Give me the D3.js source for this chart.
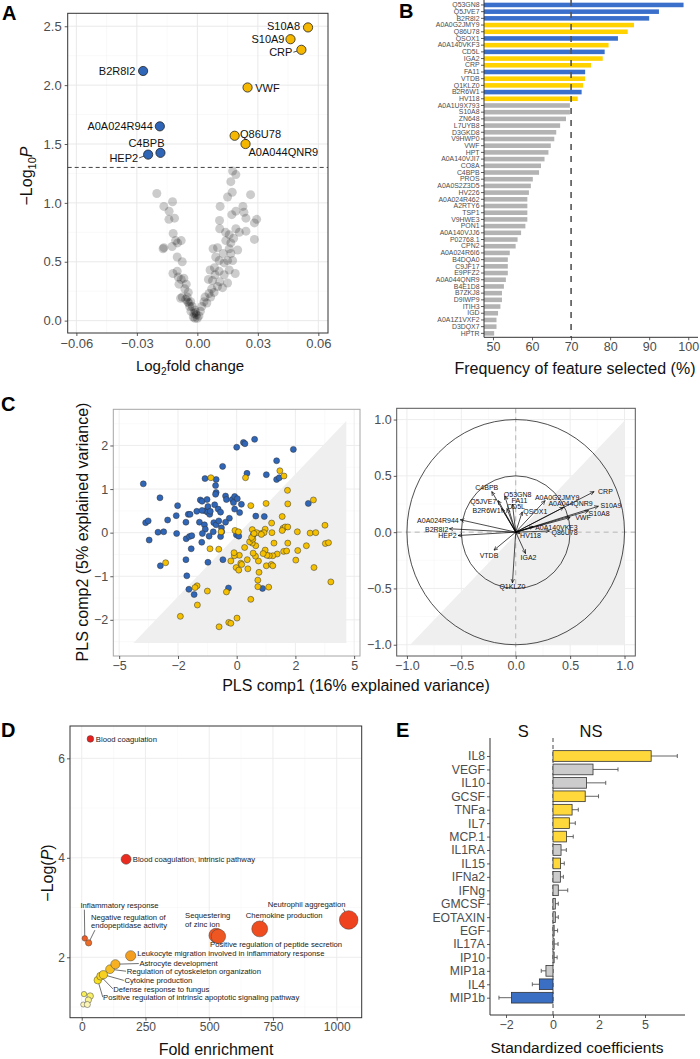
<!DOCTYPE html>
<html><head><meta charset="utf-8">
<script src="https://cdn.jsdelivr.net/npm/d3@7"></script>
<style>body{margin:0;background:#fff}</style>
</head><body><svg id="fig" width="700" height="1059"></svg>
<script>
// ---------------- DATA ----------------
// Panel A: volcano
const aSigNames = ["S10A8","S10A9","CRP","VWF","Q86U78","A0A044QNR9","B2R8I2","A0A024R944","C4BPB","HEP2"];
const aSigFC    = [0.0549,0.0462,0.0516,0.0249,0.0185,0.0239,-0.0269,-0.0186,-0.0183,-0.0244];
const aSigLogP  = [2.49,2.39,2.30,1.98,1.57,1.50,2.12,1.65,1.425,1.41];
const aSigDir   = ["up","up","up","up","up","up","down","down","down","down"];
const aNsFC = [-0.0201,-0.0166,-0.0123,-0.0140,-0.0141,-0.0113,-0.0120,-0.0108,-0.0098,-0.0166,-0.0170,-0.0125,-0.0080,-0.0100,-0.0075,-0.0121,-0.0100,-0.0095,-0.0080,-0.0067,-0.0055,-0.0091,-0.0062,-0.0045,-0.0075,-0.0050,-0.0033,-0.0025,-0.0042,-0.0013,-0.0005,0.0000,-0.0017,-0.0058,-0.0038,-0.0048,-0.0020,-0.0008,-0.0032,-0.0012,-0.0083,
 0.0175,0.0191,0.0166,0.0173,0.0150,0.0264,0.0113,0.0191,0.0171,0.0226,0.0231,0.0241,0.0294,0.0283,0.0110,0.0111,0.0140,0.0191,0.0208,0.0241,0.0283,0.0158,0.0141,0.0180,0.0166,0.0100,0.0078,0.0158,0.0200,0.0166,0.0128,0.0091,0.0108,0.0150,0.0175,0.0133,0.0085,0.0063,0.0108,0.0188,0.0158,0.0133,0.0088,0.0055,0.0075,0.0111,0.0150,0.0100,0.0125,0.0071,0.0058,0.0083,0.0038,0.0066,0.0033,0.0047,0.0022,0.0015,0.0008];
const aNsLogP = [1.08,0.97,1.01,0.93,0.86,0.87,0.74,0.68,0.66,0.62,0.61,0.63,0.68,0.54,0.50,0.40,0.42,0.37,0.35,0.36,0.31,0.31,0.27,0.24,0.20,0.20,0.16,0.12,0.15,0.09,0.05,0.02,0.06,0.18,0.12,0.16,0.03,0.07,0.08,0.02,0.19,
 1.27,1.24,1.18,1.09,1.05,1.07,0.97,0.93,0.90,0.97,0.92,0.87,0.86,0.83,0.85,0.78,0.75,0.78,0.75,0.76,0.69,0.73,0.68,0.70,0.66,0.62,0.61,0.61,0.60,0.57,0.57,0.54,0.51,0.51,0.51,0.49,0.45,0.43,0.42,0.40,0.43,0.39,0.39,0.35,0.34,0.33,0.32,0.29,0.28,0.27,0.23,0.24,0.20,0.20,0.16,0.15,0.12,0.08,0.04];
const aPCut = 0.05;

// Panel B: feature selection frequency
const bNames = ["Q53GN8","Q5JVE7","B2R8I2","A0A0G2JMY9","Q86U78","QSOX1","A0A140VKF3","CD5L","IGA2","CRP","FA11","VTDB","Q1KLZ0","B2R6W1","HV118","A0A1U9X793","S10A8","ZN648","L7UYB8","D3GKD8","V9HWP0","VWF","HPT","A0A140VJI7","CO8A","C4BPB","PROS","A0A0S2Z3D5","HV226","A0A024R462","A2RTY6","TSP1","V9HWE3","PON1","A0A140VJJ6","P02768.1","CPN2","A0A024R6I6","B4DQA0","C9JF17","E9PFZ2","A0A044QNR9","B4E1D8","B7ZKJ8","D9IWP9","ITIH3","IGD","A0A1Z1VXF2","D3DQX7","HPTR"];
const bFreq = [98.8,92.5,90.0,86.1,84.5,82.0,79.6,78.6,78.1,75.1,73.6,73.6,73.1,72.7,71.7,69.7,69.7,68.7,67.2,66.2,65.7,64.8,64.2,63.2,62.3,61.8,60.2,59.7,59.2,58.8,58.8,58.8,58.8,58.3,57.2,56.3,55.8,54.3,53.8,53.8,53.8,53.3,52.8,52.3,52.3,51.9,51.3,50.9,50.9,50.3];
const bGroup = ["S","S","S","NS","NS","S","NS","S","NS","NS","S","NS","NS","S","NS"]; // rest unselected
const bTicks = [50,60,70,80,90,100];
const bCut = 70;

// Panel C: PLS scores
const cBlueX = [-3.77,-3.65,-3.52,-3.47,-3.02,-2.73,-2.92,-2.53,-2.07,-2.02,-2.09,-1.73,-1.65,-1.59,-1.72,-1.61,-1.53,-1.55,-1.36,-1.27,-1.24,-1.18,-1.19,-1.10,-1.08,-1.08,-1.07,-1.01,-0.99,-0.98,-0.94,-0.92,-0.90,-0.78,-0.75,-0.72,-0.70,-0.70,-0.72,-0.70,-0.63,-0.61,-0.55,-0.55,-0.48,-0.52,-0.51,-0.47,-0.38,-0.35,-0.25,-0.15,-0.11,-0.07,-0.07,0.00,-0.01,0.02,0.10,0.16,0.23,0.28,0.35,0.61,0.65,0.94,1.01,1.36,1.36,1.45,1.93,2.66,0.88,-0.28,-0.98,-1.73,-1.70,-1.63,-1.45,-2.90,-1.18,-0.38,-0.80,-1.17,0.07,0.57];
const cBlueY = [1.12,0.23,0.27,-0.17,0.01,0.02,0.80,0.29,-0.02,0.62,0.39,0.24,0.42,0.42,-0.14,-0.09,-0.07,-0.37,0.49,0.24,0.75,0.72,-0.22,0.18,1.24,0.50,0.08,0.76,0.47,0.60,-0.08,0.42,0.49,0.23,0.64,1.08,1.22,0.92,0.88,0.18,0.54,0.27,0.47,-0.09,1.52,0.11,0.02,-0.62,0.84,0.76,0.33,0.76,0.69,0.83,0.54,1.96,-0.05,0.78,0.46,0.65,2.07,2.04,1.36,2.14,0.38,0.37,1.33,1.65,1.22,1.26,1.91,0.67,-1.28,-1.27,-0.68,-0.62,-0.99,-1.30,-1.42,-0.76,0.51,0.24,0.02,-0.02,-0.08,-0.04];
const cYellowX = [-0.88,0.30,1.47,1.61,1.73,1.74,2.92,0.48,1.00,1.55,1.19,1.58,1.65,1.74,2.10,2.75,3.04,3.51,3.53,3.69,2.95,3.81,2.02,2.56,2.12,1.74,1.60,1.70,1.55,1.20,0.97,0.83,0.53,0.68,0.93,1.27,1.38,1.23,1.11,1.03,0.97,0.90,1.01,1.18,1.23,0.74,0.64,0.56,0.65,0.53,0.44,0.55,0.27,0.09,-0.08,-0.09,-0.20,-0.02,0.07,0.14,0.17,0.36,0.38,0.72,0.76,0.72,1.09,0.48,0.01,-0.27,-0.20,-0.60,-1.92,-1.34,-1.35,-1.42,-1.00,-0.35,-2.63,-0.91,-0.61,-0.53,-0.06,0.06,0.51,0.84,0.59];
const cYellowY = [1.26,1.26,1.42,1.30,0.97,0.66,0.75,0.62,0.67,0.37,0.22,0.10,0.13,0.13,0.02,-0.01,0.00,0.17,-0.25,-0.23,-0.80,-1.13,-0.63,-0.30,-0.41,-0.24,-0.43,-0.42,0.05,0.00,0.08,-0.02,0.07,0.00,0.00,-0.24,-0.49,-0.53,-0.53,-0.52,-0.40,-0.48,-0.76,-0.73,-0.76,-0.65,-0.54,-0.47,-0.30,-0.24,-0.21,-0.15,-0.34,-0.52,-0.53,-0.46,-0.65,-0.80,-0.86,-0.70,-0.73,-0.62,-0.83,-1.09,-0.91,-1.24,-1.25,-1.53,-1.96,-2.06,-2.08,-2.16,-1.92,-1.66,-1.22,-1.26,-1.34,-1.36,-0.69,-0.37,-0.38,0.02,0.05,0.02,-0.11,-0.04,-0.02];
const cScoreTicksX = [-5,-2,0,2,5];
const cScoreTicksY = [-2,-1,0,1,2];
const cScoreShade = [[-4.27,-2.53],[4.6,-2.53],[4.6,2.56]];

// Panel C: loadings (correlation circle)
const cLoadNames = ["CRP","S10A9","S10A8","VWF","A0A0G2JMY9","A0A044QNR9","QSOX1","A0A140VKF3","Q86U78","HV118","IGA2","Q1KLZ0","VTDB","HEP2","B2R8I2","A0A024R944","B2R6W1","Q5JVE7","C4BPB","Q53GN8","FA11","CD5L"];
const cLoadX = [0.72,0.76,0.67,0.50,0.27,0.44,0.06,0.16,0.31,0.04,0.09,-0.03,-0.20,-0.53,-0.61,-0.51,-0.13,-0.16,-0.22,-0.10,-0.03,-0.08];
const cLoadY = [0.36,0.23,0.19,0.13,0.28,0.22,0.18,0.05,0.01,-0.01,-0.19,-0.45,-0.16,-0.03,0.03,0.11,0.21,0.28,0.36,0.32,0.25,0.21];
const cCircleRadii = [0.5,1];
const cLoadTicks = [-1,-0.5,0,0.5,1];
const cLoadShade = [[-0.97,-1.0],[1.0,-1.0],[1.0,0.99]];

// Panel D: GO enrichment
const dTerms = ["Blood coagulation","Blood coagulation, intrinsic pathway","Inflammatory response","Negative regulation of|endopeptidase activity","Sequestering|of zinc ion","Chemokine production","Neutrophil aggregation","Positive regulation of peptide secretion","Leukocyte migration involved in inflammatory response","Astrocyte development","Regulation of cytoskeleton organization","Cytokine production","Defense response to fungus","Positive regulation of intrinsic apoptotic signaling pathway"];
const dFE   = [34,174,12,27,527,698,1047,536,192,132,111,85,74,63];
const dLogP = [6.39,3.97,2.38,2.29,2.44,2.57,2.75,2.42,2.03,1.86,1.76,1.65,1.62,1.54];
const dExtraFE   = [9,33,26,6,22];
const dExtraLogP = [1.26,1.22,1.14,1.05,1.05];
const dTicksX = [0,250,500,750,1000];
const dTicksY = [2,4,6];

// Panel E: cytokine coefficients
const eCyto  = ["IL8","VEGF","IL10","GCSF","TNFa","IL7","MCP.1","IL1RA","IL15","IFNa2","IFNg","GMCSF","EOTAXIN","EGF","IL17A","IP10","MIP1a","IL4","MIP1b"];
const eCoef  = [5.4,1.74,1.46,1.40,0.83,0.71,0.59,0.35,0.33,0.32,0.23,0.10,0.10,0.05,0.05,0.05,-0.30,-0.58,-1.77];
const eErrEnd= [7.1,3.24,2.44,1.98,1.10,0.97,0.88,0.58,0.49,0.45,0.64,0.23,0.23,0.20,0.22,0.18,-0.50,-0.88,-2.30];
const eGroup = ["NS","none","none","NS","NS","NS","NS","none","NS","none","none","none","none","none","none","none","none","S","S"];
const eTicks = [-2,0,2,5];

// ---------------- STYLE / LAYOUT ----------------
const FONT = "'Liberation Sans', Arial, Helvetica, sans-serif";
const svg = d3.select("#fig").attr("font-family", FONT);
const defs = svg.append("defs");

function drawGrid(g, x, y, xMaj, xMin, yMaj, yMin, majC, minC) {
  const [x0,x1] = d3.extent(x.range()), [y0,y1] = d3.extent(y.range());
  const gg = g.append("g");
  const add = (vals, vert, c, w) => gg.selectAll(null).data(vals).join("line")
    .attr("x1", d => vert ? x(d) : x0).attr("x2", d => vert ? x(d) : x1)
    .attr("y1", d => vert ? y0 : y(d)).attr("y2", d => vert ? y1 : y(d))
    .attr("stroke", c).attr("stroke-width", w);
  add(xMin, true, minC, 0.5); add(yMin, false, minC, 0.5);
  add(xMaj, true, majC, 0.9); add(yMaj, false, majC, 0.9);
}
function drawBorder(g, x, y, c, w) {
  const [x0,x1] = d3.extent(x.range()), [y0,y1] = d3.extent(y.range());
  g.append("rect").attr("x",x0).attr("y",y0).attr("width",x1-x0).attr("height",y1-y0)
    .attr("fill","none").attr("stroke",c).attr("stroke-width",w);
}
function styleAxis(sel, fs) {
  sel.attr("font-family", FONT).attr("font-size", fs);
  sel.select(".domain").remove();
  sel.selectAll(".tick line").attr("stroke","#333").attr("stroke-width",0.8);
  sel.selectAll(".tick text").attr("fill","#4d4d4d");
}
function panelLetter(t, x, y) {
  svg.append("text").attr("x",x).attr("y",y).text(t).attr("font-weight","bold").attr("font-size",20).attr("fill","#000");
}

const BLUE = "#2f66b8", YEL_A = "#f5b700", YEL_C = "#f5c000";

// ================= PANEL A =================
{
  const g = svg.append("g");
  const x = d3.scaleLinear().domain([-0.0643, 0.0648]).range([67.7, 328]);
  const y = d3.scaleLinear().domain([-0.105, 2.61]).range([333, 13.3]);
  drawGrid(g, x, y, [-0.06,-0.03,0,0.03,0.06], [-0.045,-0.015,0.015,0.045],
           d3.range(0,2.51,0.5), d3.range(0.25,2.6,0.5), "#e6e6e6", "#f3f3f3");
  const ax = g.append("g").attr("transform","translate(0,333)")
    .call(d3.axisBottom(x).tickValues([-0.06,-0.03,0,0.03,0.06]).tickFormat(d3.format(".2f")).tickSize(3).tickPadding(3));
  styleAxis(ax, 13);
  const ay = g.append("g").attr("transform","translate(67.7,0)")
    .call(d3.axisLeft(y).tickValues(d3.range(0,2.51,0.5)).tickFormat(d3.format(".1f")).tickSize(3).tickPadding(3));
  styleAxis(ay, 13);
  g.append("line").attr("x1",67.7).attr("x2",328).attr("y1",y(-Math.log10(aPCut))).attr("y2",y(-Math.log10(aPCut)))
    .attr("stroke","#444").attr("stroke-width",1).attr("stroke-dasharray","4,3");
  g.append("g").selectAll("circle").data(aNsFC).join("circle")
    .attr("cx", d => x(d)).attr("cy", (d,i) => y(aNsLogP[i])).attr("r",4.5)
    .attr("fill","#000").attr("fill-opacity",0.2);
  const lab = {S10A8:["end",-8,-1.6,0],S10A9:["end",-6,0,0],CRP:["end",-9,2.4,1],B2R8I2:["end",-7.6,0.3,0],
    VWF:["start",7.7,0.6,0],A0A024R944:["end",-7,0.3,0],Q86U78:["start",5.4,-1.6,0],A0A044QNR9:["start",3,7.7,0],
    C4BPB:["middle",-14,-10,0],HEP2:["end",-10,3.3,1]};
  const sig = aSigNames.map((n,i)=>({n, px:x(aSigFC[i]), py:y(aSigLogP[i]), dir:aSigDir[i]}));
  g.append("g").selectAll("line").data(sig.filter(d=>lab[d.n][3])).join("line")
    .attr("x1", d=>d.px+lab[d.n][1]+1).attr("y1", d=>d.py+lab[d.n][2])
    .attr("x2", d=>d.px).attr("y2", d=>d.py).attr("stroke","#222").attr("stroke-width",0.8);
  g.append("g").selectAll("circle").data(sig).join("circle")
    .attr("cx",d=>d.px).attr("cy",d=>d.py).attr("r",4.6)
    .attr("fill",d=>d.dir==="up"?YEL_A:BLUE).attr("stroke","#222").attr("stroke-width",0.8);
  g.append("g").selectAll("text").data(sig).join("text")
    .attr("x",d=>d.px+lab[d.n][1]).attr("y",d=>d.py+lab[d.n][2]).attr("dy","0.35em")
    .attr("text-anchor",d=>lab[d.n][0]).attr("font-size",11).attr("fill","#111").text(d=>d.n);
  drawBorder(g, x, y, "#333", 1);
  const t = g.append("text").attr("text-anchor","middle").attr("font-size",15).attr("fill","#111")
    .attr("x",190).attr("y",371);
  t.append("tspan").text("Log"); t.append("tspan").attr("font-size",10).attr("dy",4).text("2");
  t.append("tspan").attr("dy",-4).text("fold change");
  const ty = g.append("text").attr("text-anchor","middle").attr("font-size",16).attr("fill","#111")
    .attr("transform","translate(32,176) rotate(-90)");
  ty.append("tspan").text("\u2212Log"); ty.append("tspan").attr("font-size",11).attr("dy",4).text("10");
  ty.append("tspan").attr("dy",-4).attr("font-style","italic").text("P");
  panelLetter("A", 2, 20);
}

// ================= PANEL B =================
{
  const g = svg.append("g");
  const x = d3.scaleLinear().domain([47.7, 102.5]).range([484, 698]);
  const y = d3.scaleBand().domain(bNames).range([1.6, 336.7]).paddingInner(0.32).paddingOuter(0.16);
  const col = i => i < bGroup.length ? (bGroup[i]==="S" ? "#3a6fcb" : "#ffd200") : "#b3b3b3";
  g.append("g").selectAll("rect").data(bNames).join("rect")
    .attr("x", x(47.7)).attr("y", d=>y(d)).attr("height", y.bandwidth())
    .attr("width",(d,i)=>x(bFreq[i])-x(47.7)).attr("fill",(d,i)=>col(i));
  g.append("line").attr("x1",x(bCut)).attr("x2",x(bCut)).attr("y1",0).attr("y2",337.3)
    .attr("stroke","#555").attr("stroke-width",1.6).attr("stroke-dasharray","6,6");
  const ay = g.append("g").attr("transform","translate(484,0)")
    .call(d3.axisLeft(y).tickSize(3).tickPadding(1.5));
  styleAxis(ay, 6.9);
  const ax = g.append("g").attr("transform","translate(0,337.3)")
    .call(d3.axisBottom(x).tickValues(bTicks).tickSize(3).tickPadding(2));
  styleAxis(ax, 12.5);
  g.append("line").attr("x1",484).attr("x2",484).attr("y1",0).attr("y2",337.3).attr("stroke","#333").attr("stroke-width",1);
  g.append("line").attr("x1",484).attr("x2",698).attr("y1",337.3).attr("y2",337.3).attr("stroke","#333").attr("stroke-width",1);
  g.append("text").attr("x",575).attr("y",374).attr("text-anchor","middle").attr("font-size",16).attr("fill","#111")
    .text("Frequency of feature selected (%)");
  panelLetter("B", 399, 18);
}

// ================= PANEL C (scores) =================
{
  const g = svg.append("g");
  const x = d3.scaleLinear().domain([-5.3,-2,0,2,5.3]).range([113.3,178,236.7,295.4,360]);
  const y = d3.scaleLinear().domain([-2.83, 2.83]).range([656, 409.3]);
  drawGrid(g, x, y, cScoreTicksX, [-3.5,-1,1,3.5], cScoreTicksY, [-2.5,-1.5,-0.5,0.5,1.5,2.5], "#ebebeb", "#f5f5f5");
  g.append("path").attr("d", d3.line().x(d=>x(d[0])).y(d=>y(d[1]))(cScoreShade)+"Z").attr("fill","#efefef");
  g.append("g").selectAll("circle").data(cBlueX).join("circle")
    .attr("cx",d=>x(d)).attr("cy",(d,i)=>y(cBlueY[i])).attr("r",3)
    .attr("fill",BLUE).attr("stroke","#333").attr("stroke-width",0.5);
  g.append("g").selectAll("circle").data(cYellowX).join("circle")
    .attr("cx",d=>x(d)).attr("cy",(d,i)=>y(cYellowY[i])).attr("r",3)
    .attr("fill",YEL_C).attr("stroke","#333").attr("stroke-width",0.5);
  drawBorder(g, x, y, "#a6a6a6", 1);
  const ax = g.append("g").attr("transform","translate(0,656)")
    .call(d3.axisBottom(x).tickValues(cScoreTicksX).tickFormat(d3.format("d")).tickSize(3).tickPadding(2));
  styleAxis(ax, 12.5);
  const ay = g.append("g").attr("transform","translate(113.3,0)")
    .call(d3.axisLeft(y).tickValues(cScoreTicksY).tickFormat(d3.format("d")).tickSize(3).tickPadding(2));
  styleAxis(ay, 12.5);
  g.append("text").attr("transform","translate(87.5,532) rotate(-90)").attr("text-anchor","middle")
    .attr("font-size",16).attr("fill","#111").text("PLS comp2 (5% explained variance)");
  g.append("text").attr("x",356).attr("y",691).attr("text-anchor","middle")
    .attr("font-size",16).attr("fill","#111").text("PLS comp1 (16% explained variance)");
  panelLetter("C", 1, 411);
}

// ================= PANEL C (loadings) =================
{
  const g = svg.append("g");
  const x = d3.scaleLinear().domain([-1.094, 1.099]).range([396.7, 635.3]);
  const y = d3.scaleLinear().domain([-1.10, 1.10]).range([656, 408.3]);
  drawGrid(g, x, y, cLoadTicks, [-0.75,-0.25,0.25,0.75], cLoadTicks, [-0.75,-0.25,0.25,0.75], "#ebebeb", "#f5f5f5");
  g.append("path").attr("d", d3.line().x(d=>x(d[0])).y(d=>y(d[1]))(cLoadShade)+"Z").attr("fill","#efefef");
  g.append("line").attr("x1",x(0)).attr("x2",x(0)).attr("y1",408.3).attr("y2",656).attr("stroke","#b5b5b5").attr("stroke-dasharray","5,4");
  g.append("line").attr("y1",y(0)).attr("y2",y(0)).attr("x1",396.7).attr("x2",635.3).attr("stroke","#b5b5b5").attr("stroke-dasharray","5,4");
  g.append("g").selectAll("ellipse").data(cCircleRadii).join("ellipse")
    .attr("cx",x(0)).attr("cy",y(0)).attr("rx",d=>x(d)-x(0)).attr("ry",d=>y(0)-y(d))
    .attr("fill","none").attr("stroke","#222").attr("stroke-width",0.8);
  defs.append("marker").attr("id","arr").attr("viewBox","0 0 10 10").attr("refX",9).attr("refY",5)
    .attr("markerUnits","userSpaceOnUse").attr("markerWidth",4.5).attr("markerHeight",4.5).attr("orient","auto")
    .append("path").attr("d","M0,1 L9,5 L0,9").attr("fill","none").attr("stroke","#000").attr("stroke-width",1.3);
  g.append("g").selectAll("line").data(cLoadNames).join("line")
    .attr("x1",x(0)).attr("y1",y(0)).attr("x2",(d,i)=>x(cLoadX[i])).attr("y2",(d,i)=>y(cLoadY[i]))
    .attr("stroke","#000").attr("stroke-width",0.7).attr("marker-end","url(#arr)");
  const lp = {CRP:["start",4,0],S10A9:["start",2,-0.6],S10A8:["start",0,2.5],VWF:["start",5,0],
    A0A0G2JMY9:["middle",12,-3.5],A0A044QNR9:["middle",7,-4],QSOX1:["start",1,0],A0A140VKF3:["start",2,1],
    Q86U78:["start",2,2],HV118:["start",0,2.5],IGA2:["middle",3,4.5],Q1KLZ0:["middle",0,4],VTDB:["middle",-5,5.5],
    HEP2:["end",-1.5,0.5],B2R8I2:["end",-1,1],A0A024R944:["end",-1.5,0.5],B2R6W1:["end",-1,2],Q5JVE7:["end",-2,1],
    C4BPB:["middle",-5,-4],Q53GN8:["start",-1,-1.5],FA11:["middle",7,-3],CD5L:["start",0,-2]};
  g.append("g").selectAll("text").data(cLoadNames).join("text")
    .attr("x",(d,i)=>x(cLoadX[i])+lp[d][1]).attr("y",(d,i)=>y(cLoadY[i])+lp[d][2]).attr("dy","0.35em")
    .attr("text-anchor",d=>lp[d][0]).attr("font-size",7).attr("fill","#111").text(d=>d);
  drawBorder(g, x, y, "#555", 1);
  const ax = g.append("g").attr("transform","translate(0,656)")
    .call(d3.axisBottom(x).tickValues(cLoadTicks).tickFormat(d3.format(".1f")).tickSize(3).tickPadding(2));
  styleAxis(ax, 12.5);
  const ay = g.append("g").attr("transform","translate(396.7,0)")
    .call(d3.axisLeft(y).tickValues(cLoadTicks).tickFormat(d3.format(".1f")).tickSize(3).tickPadding(2));
  styleAxis(ay, 12.5);
}

// ================= PANEL D =================
{
  const g = svg.append("g");
  const x = d3.scaleLinear().domain([-46, 1098]).range([70, 361.7]);
  const y = d3.scaleLinear().domain([0.785, 6.65]).range([1017.7, 726]);
  drawGrid(g, x, y, dTicksX, [125,375,625,875], dTicksY, [1,3,5], "#ebebeb", "#f5f5f5");
  const r = d3.scaleSqrt().domain([0,1050]).range([2,9.3]);
  const col = d3.scaleLinear().domain([1.0,1.25,1.55,1.75,1.9,2.05,2.3,2.45,2.75,4,6.4])
    .range(["#fdf7d0","#f8ee5a","#f8df1e","#f7c020","#f6aa22","#f39c20","#ec6a28","#ef5220","#ef421f","#ea2a1f","#e8201d"]);
  const lay = [[5.4,3,null,null],[6.7,3,null,null],[-4.4,-30.7,-0.4,-28.7],[2.3,-23.2,6.3,-12.7],[-31,-17,null,null],
    [-14,-10.7,3.6,-9.4],[-81,-13,-5.4,-11.3],[-8.3,11,-6.3,5],[6.6,0.3,null,null],[24,1.7,23.4,-0.7],
    [16.7,5,16,2],[21,8.7,20.4,5.7],[12.6,15.4,12.3,12.7],[5.3,19.7,5,17]];
  const pts = dTerms.map((t,i)=>({t, px:x(dFE[i]), py:y(dLogP[i]), fe:dFE[i], lp:dLogP[i], L:lay[i]}));
  g.append("g").selectAll("line").data(pts.filter(d=>d.L[2]!==null)).join("line")
    .attr("x1",d=>d.px).attr("y1",d=>d.py).attr("x2",d=>d.px+d.L[2]).attr("y2",d=>d.py+d.L[3])
    .attr("stroke","#111").attr("stroke-width",0.6);
  g.append("g").selectAll("circle").data(dExtraFE).join("circle")
    .attr("cx",d=>x(d)).attr("cy",(d,i)=>y(dExtraLogP[i])).attr("r",d=>r(d))
    .attr("fill",(d,i)=>col(dExtraLogP[i])).attr("stroke","#444").attr("stroke-width",0.5);
  g.append("g").selectAll("circle").data(pts.slice().sort((a,b)=>a.fe-b.fe)).join("circle")
    .attr("cx",d=>d.px).attr("cy",d=>d.py).attr("r",d=>r(d.fe))
    .attr("fill",d=>col(d.lp)).attr("stroke","#444").attr("stroke-width",0.5);
  const tx = g.append("g").selectAll("text").data(pts).join("text")
    .attr("x",d=>d.px+d.L[0]).attr("y",d=>d.py+d.L[1]).attr("font-size",7.7).attr("fill","#222");
  tx.each(function(d){
    const lines = d.t.split("|");
    d3.select(this).selectAll("tspan").data(lines).join("tspan")
      .attr("x",d.px+d.L[0]).attr("dy",(l,k)=>k===0?0:8.8).text(l=>l);
  });
  drawBorder(g, x, y, "#333", 1);
  const ax = g.append("g").attr("transform","translate(0,1017.7)")
    .call(d3.axisBottom(x).tickValues(dTicksX).tickFormat(d3.format("d")).tickSize(3).tickPadding(2));
  styleAxis(ax, 12);
  const ay = g.append("g").attr("transform","translate(70,0)")
    .call(d3.axisLeft(y).tickValues(dTicksY).tickFormat(d3.format("d")).tickSize(3).tickPadding(2));
  styleAxis(ay, 12);
  g.append("text").attr("x",216).attr("y",1055).attr("text-anchor","middle").attr("font-size",16).attr("fill","#111").text("Fold enrichment");
  const ty = g.append("text").attr("transform","translate(53,873) rotate(-90)").attr("text-anchor","middle")
    .attr("font-size",16).attr("fill","#111");
  ty.append("tspan").text("\u2212Log("); ty.append("tspan").attr("font-style","italic").text("P"); ty.append("tspan").text(")");
  panelLetter("D", 1, 737);
}

// ================= PANEL E =================
{
  const g = svg.append("g");
  const x = d3.scaleLinear().domain([-2.68,-2,0,2,5,7.6]).range([490,506,553,599,645,685]);
  const y = d3.scalePoint().domain(eCyto).range([756, 997.7]);
  const bh = 10.7;
  const col = {NS:"#ffd83b", none:"#cccccc", S:"#3a6fc4"};
  g.append("line").attr("x1",x(0)).attr("x2",x(0)).attr("y1",738).attr("y2",1015)
    .attr("stroke","#333").attr("stroke-width",0.9).attr("stroke-dasharray","4,3");
  const eb = g.append("g").attr("stroke","#555").attr("stroke-width",0.9);
  eb.selectAll("line.h").data(eCyto).join("line").attr("class","h")
    .attr("x1",(d,i)=>x(eCoef[i])).attr("x2",(d,i)=>x(eErrEnd[i])).attr("y1",d=>y(d)).attr("y2",d=>y(d));
  eb.selectAll("line.c").data(eCyto).join("line").attr("class","c")
    .attr("x1",(d,i)=>x(eErrEnd[i])).attr("x2",(d,i)=>x(eErrEnd[i])).attr("y1",d=>y(d)-2).attr("y2",d=>y(d)+2);
  g.append("g").selectAll("rect").data(eCyto).join("rect")
    .attr("x",(d,i)=>Math.min(x(0),x(eCoef[i]))).attr("width",(d,i)=>Math.abs(x(eCoef[i])-x(0)))
    .attr("y",d=>y(d)-bh/2).attr("height",bh)
    .attr("fill",(d,i)=>col[eGroup[i]]).attr("stroke","#333").attr("stroke-width",0.8);
  const ay = g.append("g").attr("transform","translate(490,0)").call(d3.axisLeft(y).tickSize(3).tickPadding(2));
  styleAxis(ay, 12.2);
  const ax = g.append("g").attr("transform","translate(0,1015)")
    .call(d3.axisBottom(x).tickValues(eTicks).tickFormat(d3.format("d")).tickSize(3).tickPadding(2));
  styleAxis(ax, 12.5);
  g.append("line").attr("x1",490).attr("x2",490).attr("y1",738).attr("y2",1015).attr("stroke","#333");
  g.append("line").attr("x1",490).attr("x2",685).attr("y1",1015).attr("y2",1015).attr("stroke","#333");
  g.append("text").attr("x",523.3).attr("y",737).attr("text-anchor","middle").attr("font-size",16.5).attr("fill","#111").text("S");
  g.append("text").attr("x",591).attr("y",737).attr("text-anchor","middle").attr("font-size",16.5).attr("fill","#111").text("NS");
  g.append("text").attr("x",577).attr("y",1053).attr("text-anchor","middle").attr("font-size",15.5).attr("fill","#111").text("Standardized coefficients");
  panelLetter("E", 396, 737);
}
</script></body></html>
